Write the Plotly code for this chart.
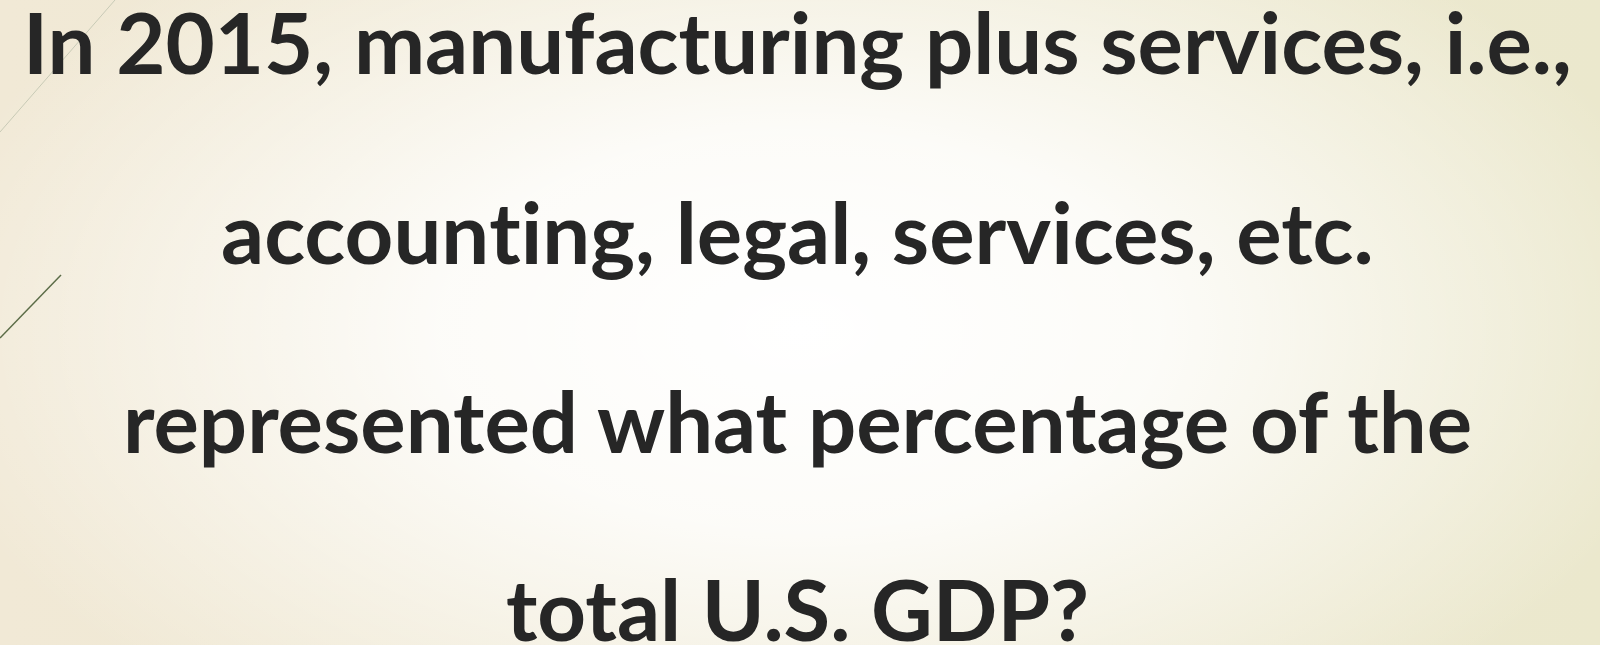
import plotly.graph_objects as go
import urllib.parse

# Slide text (one entry per line)
lines = [
    "In 2015, manufacturing plus services, i.e.,",
    "accoun<span style='font-size:84.5px'>t</span>ing, legal, services, etc.",
    "represented what percentage of the",
    "total U.S. GDP?",
]
line_y = [41, 231, 420, 608]  # vertical centre of each line (px from top)

W, H = 1600, 645

bg_svg = (
    "<svg xmlns='http://www.w3.org/2000/svg' width='1600' height='645' viewBox='0 0 1600 645' preserveAspectRatio='none'>"
    "<defs>"
    "<linearGradient id='lg' x1='0' y1='0' x2='1' y2='0'>"
    "<stop offset='0' stop-color='#f1e9d6'/><stop offset='1' stop-color='#ebe8cd'/>"
    "</linearGradient>"
    "<radialGradient id='rg' cx='800' cy='330' r='900' gradientUnits='userSpaceOnUse' gradientTransform='translate(800 330) scale(1 0.55) translate(-800 -330)'>"
    "<stop offset='0' stop-color='#ffffff' stop-opacity='1'/>"
    "<stop offset='0.4' stop-color='#ffffff' stop-opacity='0.85'/>"
    "<stop offset='1' stop-color='#ffffff' stop-opacity='0'/>"
    "</radialGradient>"
    "</defs>"
    "<rect width='1600' height='645' fill='url(#lg)'/>"
    "<rect width='1600' height='645' fill='url(#rg)'/>"
    "</svg>"
)
bg_uri = "data:image/svg+xml;charset=utf-8," + urllib.parse.quote(bg_svg)

fig = go.Figure()
fig.add_layout_image(dict(source=bg_uri, xref="x", yref="y", x=0, y=0, sizex=W, sizey=H,
                          sizing="stretch", layer="below", xanchor="left", yanchor="top"))

for t, y in zip(lines, line_y):
    fig.add_annotation(x=797, y=y, xref="x", yref="y", text="<b>" + t + "</b>", showarrow=False,
                       xanchor="center", yanchor="middle",
                       font=dict(family="Lato", size=85, color="#262626"))

# decorative diagonal strokes at top-left
fig.add_shape(type="line", x0=0, y0=132, x1=115, y1=0, xref="x", yref="y",
              line=dict(color="#c8cab6", width=1))
fig.add_shape(type="line", x0=0, y0=338, x1=61, y1=275, xref="x", yref="y",
              line=dict(color="#5b6c47", width=1.5))

fig.update_xaxes(range=[0, W], visible=False, showgrid=False, zeroline=False)
fig.update_yaxes(range=[H, 0], visible=False, showgrid=False, zeroline=False)
fig.update_layout(width=W, height=H, margin=dict(l=0, r=0, t=0, b=0),
                  paper_bgcolor="#f3efe0", plot_bgcolor="rgba(0,0,0,0)", showlegend=False)
fig.write_html("out.html", config={"displayModeBar": False, "staticPlot": True},
               post_script="document.body.style.margin='0';document.body.style.overflow='hidden';")
